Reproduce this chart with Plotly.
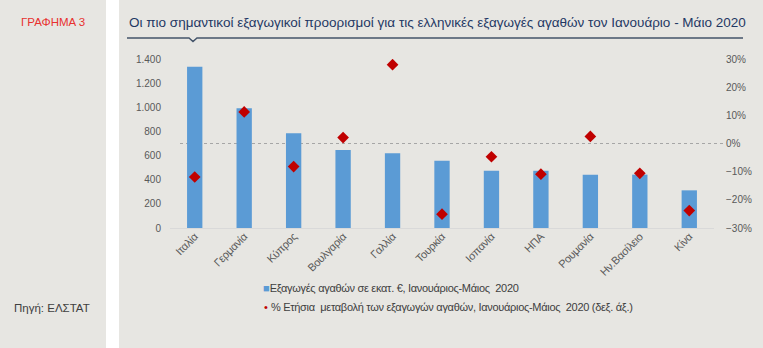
import plotly.graph_objects as go

countries = ["Ιταλία", "Γερμανία", "Κύπρος", "Βουλγαρία", "Γαλλία", "Τουρκία",
             "Ισπανία", "ΗΠΑ", "Ρουμανία", "Ην.Βασίλειο", "Κίνα"]
exports_meur = [1336, 992, 784, 646, 619, 557, 475, 474, 442, 442, 312]
yoy_change = [-0.119, 0.112, -0.082, 0.021, 0.280, -0.251, -0.047, -0.109, 0.025, -0.106, -0.238]

bar_name = "Εξαγωγές αγαθών σε εκατ. €, Ιανουάριος-Μάιος  2020"
dot_name = "% Ετήσια  μεταβολή των εξαγωγών αγαθών, Ιανουάριος-Μάιος  2020 (δεξ. άξ.)"
title_text = "Οι πιο σημαντικοί εξαγωγικοί προορισμοί για τις ελληνικές εξαγωγές αγαθών τον Ιανουάριο - Μάιο 2020"

W, H = 763, 348
PL, PR, PT, PB = 170, 714, 59, 228
BG = "#e7e6e2"
FONT = "Liberation Sans, Arial, sans-serif"
TIGHT = "letter-spacing:-0.3px"


def X(px):
    return (px - PL) / (PR - PL)


def Y(py):
    return (PB - py) / (PB - PT)


fig = go.Figure()
fig.add_trace(go.Bar(x=countries, y=exports_meur, name=bar_name, showlegend=False,
                     marker=dict(color="#5b9bd5", line=dict(width=0)), width=0.31))
fig.add_trace(go.Scatter(x=countries, y=yoy_change, name=dot_name, yaxis="y2", mode="markers",
                         showlegend=False,
                         marker=dict(symbol="diamond", color="#c00000", size=9)))

shapes = [
    dict(type="rect", xref="paper", yref="paper", x0=X(106), x1=X(119), y0=Y(H + 5), y1=Y(-5),
         fillcolor="white", line=dict(width=0), layer="below"),
    dict(type="path", xref="paper", yref="paper",
         path=f"M {X(127)},{Y(38)} L {X(189)},{Y(38)} L {X(193)},{Y(41.5)} L {X(197)},{Y(38)} L {X(743)},{Y(38)}",
         line=dict(color="#44546a", width=1.5)),
    dict(type="line", xref="paper", yref="y2", x0=X(180), x1=X(725), y0=0, y1=0,
         line=dict(color="#a6a6a6", width=1, dash="dot"), layer="below"),
]

annotations = [
    dict(text="ΓΡΑΦΗΜΑ 3", xref="paper", yref="paper", x=X(19), y=Y(22), xanchor="left", yanchor="middle",
         showarrow=False, font=dict(family=FONT, size=11.5, color="#e8312f")),
    dict(text=title_text, xref="paper", yref="paper", x=X(127), y=Y(22), xanchor="left", yanchor="middle",
         showarrow=False, font=dict(family=FONT, size=13.5, color="#1f3864")),
    dict(text="Πηγή: ΕΛΣΤΑΤ", xref="paper", yref="paper", x=X(12), y=Y(308), xanchor="left", yanchor="middle",
         showarrow=False, font=dict(family=FONT, size=11.5, color="#404040")),
    dict(text=f"<span style='color:#5b9bd5'>■</span><span style='{TIGHT}'>{bar_name}</span>",
         xref="paper", yref="paper", x=X(261), y=Y(288), xanchor="left", yanchor="middle",
         showarrow=False, font=dict(family=FONT, size=11, color="#404040")),
    dict(text=f"<span style='color:#c00000'>•</span> <span style='{TIGHT}'>{dot_name}</span>",
         xref="paper", yref="paper", x=X(262), y=Y(307), xanchor="left", yanchor="middle",
         showarrow=False, font=dict(family=FONT, size=11, color="#404040")),
]

fig.update_layout(
    width=W, height=H,
    margin=dict(l=PL, r=W - PR, t=PT, b=H - PB, autoexpand=False),
    paper_bgcolor=BG, plot_bgcolor=BG,
    separators=",.",
    showlegend=False,
    bargap=0.69,
    xaxis=dict(showline=True, linecolor="#d9d9d9", linewidth=1, tickangle=-45, automargin=False,
               range=[-0.5, len(countries) - 0.5], ticklabelstandoff=-3,
               tickmode="array", tickvals=countries,
               ticktext=[f"<span style='{TIGHT}'>{c}</span>" for c in countries],
               tickfont=dict(family=FONT, size=11, color="#595959"), ticks="", showgrid=False),
    yaxis=dict(range=[0, 1400], tickvals=[0, 200, 400, 600, 800, 1000, 1200, 1400], tickformat=",d",
               showgrid=False, zeroline=False, ticks="", ticklabelstandoff=8, automargin=False,
               tickfont=dict(family=FONT, size=10, color="#595959")),
    yaxis2=dict(range=[-0.3, 0.3], overlaying="y", side="right", automargin=False,
                tickvals=[-0.3, -0.2, -0.1, 0, 0.1, 0.2, 0.3], tickformat=".0%",
                showgrid=False, zeroline=False, ticks="", ticklabelstandoff=11,
                tickfont=dict(family=FONT, size=10, color="#595959")),
    shapes=shapes,
    annotations=annotations,
)

fig.write_html("out.html")
